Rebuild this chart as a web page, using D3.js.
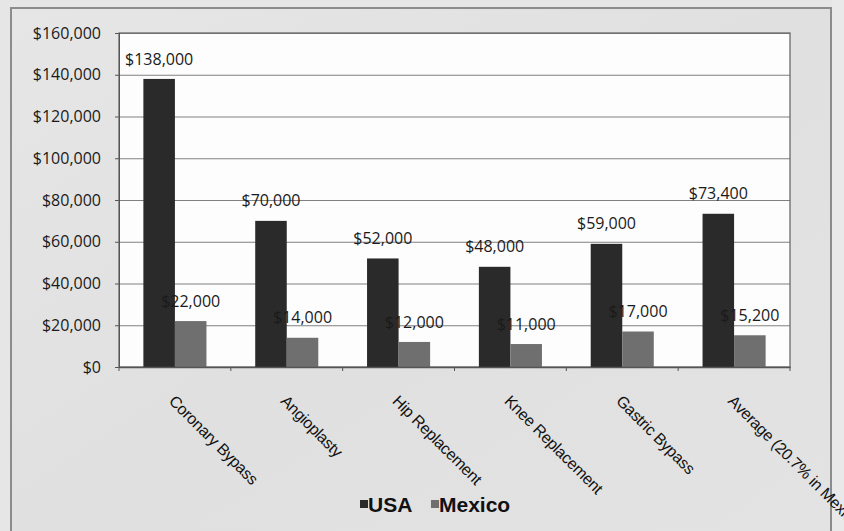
<!DOCTYPE html>
<html>
<head>
<meta charset="utf-8">
<script src="https://cdn.jsdelivr.net/npm/d3@7"></script>
<style>
  body { margin: 0; background: #e4e4e4; }
  svg { display: block; }
</style>
</head>
<body>
<svg width="844" height="531"></svg>
<script>
var categories = ["Coronary Bypass", "Angioplasty", "Hip Replacement", "Knee Replacement", "Gastric Bypass", "Average (20.7% in Mexico)"];
var usa = [138000, 70000, 52000, 48000, 59000, 73400];
var mexico = [22000, 14000, 12000, 11000, 17000, 15200];
var yTicks = [0, 20000, 40000, 60000, 80000, 100000, 120000, 140000, 160000];
var seriesNames = ["USA", "Mexico"];

var colors = { USA: "#2a2a2a", Mexico: "#6f6f6f" };

var svg = d3.select("svg"),
    plot = { left: 119, right: 790, top: 33, bottom: 367 };

// chart background + frame
var defs = svg.append("defs");
var grad = defs.append("linearGradient").attr("id", "bg").attr("x1", 0).attr("y1", 0).attr("x2", 1).attr("y2", 1);
grad.append("stop").attr("offset", "0%").attr("stop-color", "#e6e6e6");
grad.append("stop").attr("offset", "50%").attr("stop-color", "#e0e0e0");
grad.append("stop").attr("offset", "100%").attr("stop-color", "#e3e3e3");

svg.append("rect").attr("width", 844).attr("height", 531).attr("fill", "#e6e6e6");
svg.append("rect")
    .attr("x", 11).attr("y", 8).attr("width", 820).attr("height", 540)
    .attr("fill", "url(#bg)")
    .attr("stroke", "#8c8c8c").attr("stroke-width", 2);
// lighter strip on the right edge of the chart
svg.append("rect")
    .attr("x", 832).attr("y", 0).attr("width", 12).attr("height", 531)
    .attr("fill", "#e9e9e9");

svg.append("rect")
    .attr("x", plot.left).attr("y", plot.top)
    .attr("width", plot.right - plot.left).attr("height", plot.bottom - plot.top)
    .attr("fill", "#fdfdfd");

var x0 = d3.scaleBand()
    .domain(categories)
    .range([plot.left, plot.right])
    .paddingInner(0.436)
    .paddingOuter(0.218);

var x1 = d3.scaleBand()
    .domain(seriesNames)
    .range([0, x0.bandwidth()]);

var y = d3.scaleLinear()
    .domain([0, 160000])
    .range([plot.bottom, plot.top]);

// gridlines
svg.append("g")
    .attr("transform", "translate(" + plot.left + ",0)")
    .call(d3.axisLeft(y).tickValues(yTicks).tickSize(-(plot.right - plot.left)).tickFormat(""))
    .call(function(g) { g.select(".domain").remove(); })
    .selectAll("line")
    .attr("stroke", "#808080")
    .attr("stroke-width", 1.2);

// plot border
svg.append("rect")
    .attr("x", plot.left).attr("y", plot.top)
    .attr("width", plot.right - plot.left).attr("height", plot.bottom - plot.top)
    .attr("fill", "none")
    .attr("stroke", "#6a6a6a").attr("stroke-width", 1.3);

// y axis
var yAxis = svg.append("g")
    .attr("transform", "translate(" + plot.left + ",0)")
    .call(d3.axisLeft(y).tickValues(yTicks).tickSize(4).tickPadding(14)
        .tickFormat(function(d) { return "$" + d3.format(",")(d); }));
yAxis.select(".domain").attr("stroke", "#555");
yAxis.selectAll("line").attr("stroke", "#555");
yAxis.selectAll("text")
    .attr("font-family", "'Open Sans', sans-serif")
    .attr("font-size", 16)
    .attr("fill", "#1a1a1a");

// bars
var rows = categories.map(function(c, i) {
    return { cat: c, values: [{ key: "USA", v: usa[i] }, { key: "Mexico", v: mexico[i] }] };
});

var groups = svg.append("g").selectAll("g")
    .data(rows)
    .enter().append("g")
    .attr("transform", function(d) { return "translate(" + x0(d.cat) + ",0)"; });

groups.selectAll("rect")
    .data(function(d) { return d.values; })
    .enter().append("rect")
    .attr("x", function(d) { return x1(d.key); })
    .attr("y", function(d) { return y(d.v); })
    .attr("width", x1.bandwidth())
    .attr("height", function(d) { return y(0) - y(d.v); })
    .attr("fill", function(d) { return colors[d.key]; });

// data labels
groups.selectAll("text")
    .data(function(d) { return d.values; })
    .enter().append("text")
    .attr("x", function(d) { return x1(d.key) + x1.bandwidth() / 2; })
    .attr("y", function(d) { return y(d.v) - 20; })
    .attr("dy", "0.35em")
    .attr("text-anchor", "middle")
    .attr("font-family", "'Open Sans', sans-serif")
    .attr("font-size", 16)
    .attr("fill", "#1a1a1a")
    .text(function(d) { return "$" + d3.format(",")(d.v); });

// x axis
var xAxis = svg.append("g")
    .attr("transform", "translate(0," + plot.bottom + ")")
    .call(d3.axisBottom(x0).tickSize(0).tickFormat(""));
xAxis.select(".domain").attr("stroke", "#555").attr("stroke-width", 1.3);

var step = x0.step();
var bounds = d3.range(categories.length + 1).map(function(i) { return plot.left + i * step; });
xAxis.selectAll(".bound")
    .data(bounds)
    .enter().append("line")
    .attr("class", "bound")
    .attr("x1", function(d) { return d; }).attr("x2", function(d) { return d; })
    .attr("y1", 0).attr("y2", 4)
    .attr("stroke", "#555");

svg.append("g").selectAll("text")
    .data(categories)
    .enter().append("text")
    .attr("transform", function(d) {
        return "translate(" + (x0(d) + x0.bandwidth() / 2 - 7) + ",402) rotate(45)";
    })
    .attr("font-family", "'Liberation Sans', Arial, sans-serif")
    .attr("font-size", 16)
    .attr("letter-spacing", -0.3)
    .attr("fill", "#111")
    .text(function(d) { return d; });

// legend
var legend = svg.append("g")
    .attr("font-family", "'Liberation Sans', Arial, sans-serif")
    .attr("font-weight", "bold")
    .attr("font-size", 21);

var legendX = d3.scaleOrdinal().domain(seriesNames).range([360, 431]);

legend.selectAll("rect")
    .data(seriesNames)
    .enter().append("rect")
    .attr("x", function(d) { return legendX(d); })
    .attr("y", 500)
    .attr("width", 8).attr("height", 8)
    .attr("fill", function(d) { return colors[d]; });

legend.selectAll("text")
    .data(seriesNames)
    .enter().append("text")
    .attr("x", function(d) { return legendX(d) + 8; })
    .attr("y", 512)
    .attr("fill", "#111")
    .text(function(d) { return d; });
</script>
</body>
</html>
